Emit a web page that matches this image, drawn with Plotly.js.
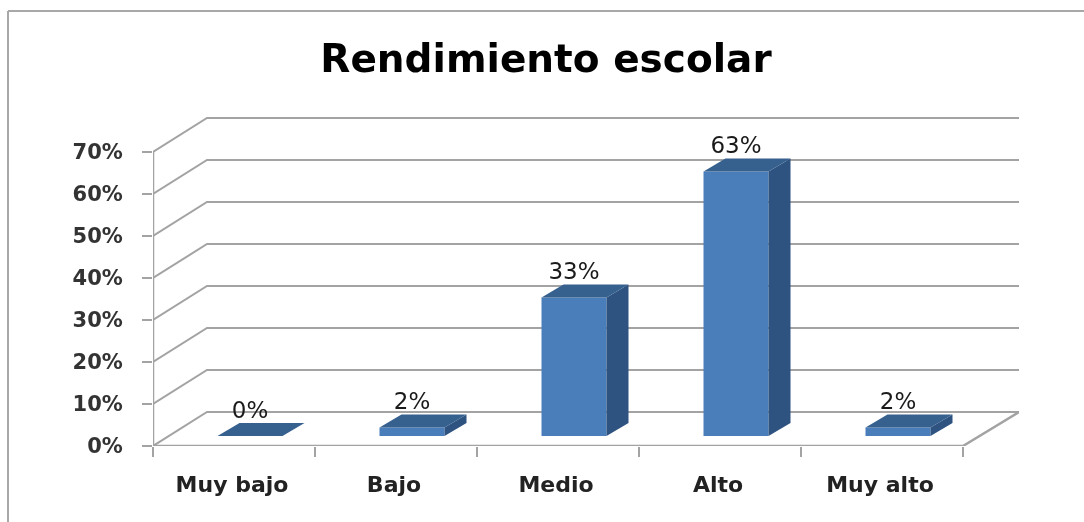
<!DOCTYPE html>
<html><head><meta charset="utf-8">
<script src="https://cdn.plot.ly/plotly-3.0.1.min.js"></script>
<style>html,body{margin:0;padding:0;background:#fff;overflow:hidden}#c{width:1084px;height:522px;filter:blur(0.45px)}</style>
</head><body><div id="c"></div>
<script>
const categories = ["Muy bajo","Bajo","Medio","Alto","Muy alto"];
const values = [0,2,33,63,2];
const valueLabels = ["0%","2%","33%","63%","2%"];
const yTicks = [0,10,20,30,40,50,60,70];
const yTickLabels = ["0%","10%","20%","30%","40%","50%","60%","70%"];
const titleText = "Rendimiento escolar";

// pseudo-3D projection, in axis units (162 px per category, 4.2 px per percent)
const xMax = 866/162, yMax = 329/4.2;
const wallDx = 54/162, wallDy = 34/4.2;
const barDx = 22/162, barDy = 13/4.2;
const barShift = 16/162, barFloor = 10/4.2, barWidth = 65/162;
const labelShift = 2/162;
const GRID = "#a3a3a3";

const traces = [];
// back wall / side wall grid
yTicks.forEach(v => traces.push({type:"scatter",mode:"lines",x:[0,wallDx,xMax],y:[v,v+wallDy,v+wallDy],
  line:{color:GRID,width:2},hoverinfo:"skip",showlegend:false}));
traces.push({type:"scatter",mode:"lines",x:[0,0],y:[0,70],line:{color:GRID,width:2.5},hoverinfo:"skip",showlegend:false});
traces.push({type:"scatter",mode:"lines",x:[0,5,xMax],y:[0,0,wallDy],line:{color:GRID,width:2.5},hoverinfo:"skip",showlegend:false});

const centers = categories.map((c,i)=>i+0.5+barShift);
// front faces
traces.push({type:"bar",x:centers,y:values,base:values.map(()=>barFloor),width:barWidth,
  marker:{color:"#4a7ebb",line:{width:0}},xaxis:"x2",yaxis:"y2",showlegend:false,hoverinfo:"skip"});
// side and top faces
values.forEach((v,i)=>{
  const l=centers[i]-barWidth/2, r=centers[i]+barWidth/2, t=v+barFloor;
  traces.push({type:"scatter",mode:"lines",fill:"toself",fillcolor:"#2f5380",line:{width:0,color:"#2f5380"},
    x:[r,r+barDx,r+barDx,r,r],y:[barFloor,barFloor+barDy,t+barDy,t,barFloor],
    xaxis:"x2",yaxis:"y2",hoverinfo:"skip",showlegend:false});
  traces.push({type:"scatter",mode:"lines",fill:"toself",fillcolor:"#36618f",line:{width:0,color:"#36618f"},
    x:[l,r,r+barDx,l+barDx,l],y:[t,t,t+barDy,t+barDy,t],
    xaxis:"x2",yaxis:"y2",hoverinfo:"skip",showlegend:false});
});
// data labels
traces.push({type:"scatter",mode:"text",x:centers,y:values.map(v=>v+barFloor+barDy+11/4.2),text:valueLabels,
  textposition:"middle center",textfont:{family:"DejaVu Sans",size:23,color:"#1a1a1a"},
  xaxis:"x2",yaxis:"y2",hoverinfo:"skip",showlegend:false});

const yTickFont = {family:"DejaVu Sans",size:21,color:"#333",weight:700};
const xTickFont = {family:"DejaVu Sans",size:22,color:"#222",weight:700};
const layout = {
  width:1084,height:522,paper_bgcolor:"#fff",plot_bgcolor:"rgba(0,0,0,0)",
  margin:{l:153,r:65,t:117,b:76,pad:0},showlegend:false,
  title:{text:titleText,font:{family:"DejaVu Sans",size:39,color:"#000",weight:700},x:546/1084,xanchor:"center",y:1-58/522,yanchor:"middle"},
  xaxis:{range:[0,xMax],tickmode:"array",tickvals:categories.map((c,i)=>i+0.5-labelShift),ticktext:categories,ticks:"",showgrid:false,zeroline:false,showline:false,
    ticklabelstandoff:23,tickfont:xTickFont},
  yaxis:{range:[0,yMax],tickmode:"array",tickvals:yTicks,ticktext:yTickLabels,ticks:"outside",ticklen:10,tickwidth:2,tickcolor:GRID,showgrid:false,zeroline:false,showline:false,
    ticklabelstandoff:15,tickfont:yTickFont},
  xaxis2:{range:[0,xMax],overlaying:"x",anchor:"y2",tickmode:"array",tickvals:[0,1,2,3,4,5],showticklabels:false,ticks:"outside",ticklen:10,tickwidth:2,tickcolor:GRID,showgrid:false,zeroline:false,showline:false},
  yaxis2:{range:[0,yMax],overlaying:"y",anchor:"x2",visible:false},
  shapes:[
    {type:"line",xref:"paper",yref:"paper",x0:(8-153)/866,x1:(8-153)/866,y0:(446-522)/329,y1:(446-11)/329,line:{color:"#a8a8a8",width:2}},
    {type:"line",xref:"paper",yref:"paper",x0:(8-153)/866,x1:(1084-153)/866,y0:(446-11)/329,y1:(446-11)/329,line:{color:"#a8a8a8",width:2}}
  ]
};
Plotly.newPlot("c",traces,layout,{displayModeBar:false,staticPlot:true});
</script></body></html>
